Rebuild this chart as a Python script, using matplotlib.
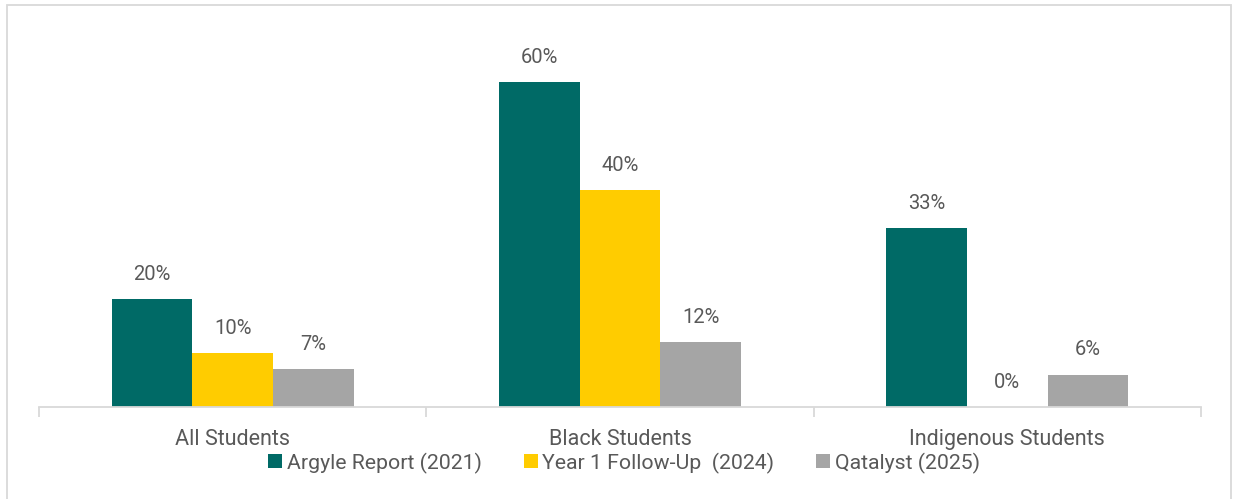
import numpy as np
import matplotlib
matplotlib.use('Agg')
import matplotlib.pyplot as plt
from matplotlib.patches import Rectangle

categories = ['All Students', 'Black Students', 'Indigenous Students']
series_names = ['Argyle Report (2021)', 'Year 1 Follow-Up  (2024)', 'Qatalyst (2025)']
argyle = [0.20, 0.60, 0.33]
follow_up = [0.10, 0.40, 0.00]
qatalyst = [0.07, 0.12, 0.06]

TEAL = '#006A66'
YELLOW = '#FFCC00'
GREY = '#A5A5A5'
TXT = '#595959'
LINE = '#D9D9D9'

plt.rcParams['font.family'] = ['Roboto', 'DejaVu Sans']

W, H = 1233, 499
fig = plt.figure(figsize=(W / 100, H / 100), dpi=100)

# outer chart border
fig.add_artist(Rectangle((7 / W, -0.05), 1224 / W, 1.05 - 5 / H,
                         transform=fig.transFigure, fill=False,
                         edgecolor=LINE, lw=1.3))

# plot area in pixel coordinates
left, right, top, bottom = 39, 1201, 28, 407
ax = fig.add_axes([left / W, 1 - bottom / H, (right - left) / W, (bottom - top) / H])

x = np.arange(len(categories))
bw = 0.208
for i, (vals, col) in enumerate(zip([argyle, follow_up, qatalyst], [TEAL, YELLOW, GREY])):
    pos = x + (i - 1) * bw
    bars = ax.bar(pos, vals, width=bw, color=col, label=series_names[i], zorder=2)
    for b, v in zip(bars, vals):
        ax.text(b.get_x() + b.get_width() / 2, v + 0.028, f'{v:.0%}',
                ha='center', va='bottom', fontsize=14.5, color=TXT)

ax.set_xlim(-0.5, 2.5)
ax.set_ylim(0, 0.70)
ax.set_yticks([])
for s in ['top', 'right', 'left']:
    ax.spines[s].set_visible(False)
ax.spines['bottom'].set_color(LINE)
ax.spines['bottom'].set_linewidth(1.3)

ax.set_xticks([-0.5, 0.5, 1.5, 2.5], minor=False)
ax.set_xticklabels([])
ax.tick_params(axis='x', which='major', length=7, color=LINE, width=1.3)
ax.set_xticks(x, minor=True)
ax.set_xticklabels(categories, minor=True, fontsize=15.5, color=TXT)
ax.tick_params(axis='x', which='minor', length=0, pad=16)

handles, labels = ax.get_legend_handles_labels()
fig.legend(handles, labels, loc='center', bbox_to_anchor=(624 / W, 1 - 463 / H),
           ncol=3, frameon=False, fontsize=15.3, labelcolor=TXT,
           handlelength=0.65, handleheight=0.65, handletextpad=0.2,
           columnspacing=2.0)

fig.savefig('out.png', dpi=100, facecolor='white')
